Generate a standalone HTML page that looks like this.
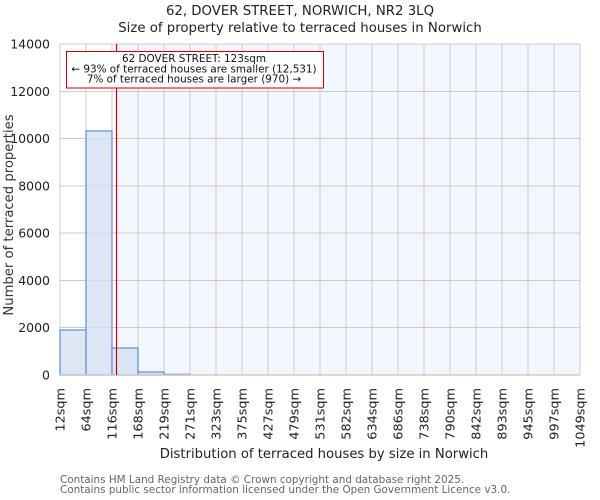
<!DOCTYPE html>
<html><head><meta charset="utf-8"><style>
html,body{margin:0;padding:0;background:#fff;}
svg{display:block;font-family:"DejaVu Sans","Liberation Sans",sans-serif;}
</style></head><body>
<svg width="600" height="500" viewBox="0 0 600 500" xmlns="http://www.w3.org/2000/svg">
<rect x="0" y="0" width="600" height="500" fill="#fff"/>
<!-- title -->
<text x="300" y="15" font-size="13.3" text-anchor="middle" fill="#222">62, DOVER STREET, NORWICH, NR2 3LQ</text>
<text x="300" y="32" font-size="13.3" text-anchor="middle" fill="#222">Size of property relative to terraced houses in Norwich</text>
<!-- plot bg -->
<rect x="116.5" y="44" width="463.5" height="331" fill="#f3f6fd"/>
<!-- grid -->
<g stroke="#cccccc" stroke-width="1" shape-rendering="crispEdges">
<line x1="60" y1="44" x2="580" y2="44"/>
<line x1="60" y1="91.3" x2="580" y2="91.3"/>
<line x1="60" y1="138.6" x2="580" y2="138.6"/>
<line x1="60" y1="185.9" x2="580" y2="185.9"/>
<line x1="60" y1="233.1" x2="580" y2="233.1"/>
<line x1="60" y1="280.4" x2="580" y2="280.4"/>
<line x1="60" y1="327.7" x2="580" y2="327.7"/>
<line x1="60" y1="44" x2="60" y2="375"/>
<line x1="86" y1="44" x2="86" y2="375"/>
<line x1="112" y1="44" x2="112" y2="375"/>
<line x1="138" y1="44" x2="138" y2="375"/>
<line x1="164" y1="44" x2="164" y2="375"/>
<line x1="190" y1="44" x2="190" y2="375"/>
<line x1="216" y1="44" x2="216" y2="375"/>
<line x1="242" y1="44" x2="242" y2="375"/>
<line x1="268" y1="44" x2="268" y2="375"/>
<line x1="294" y1="44" x2="294" y2="375"/>
<line x1="320" y1="44" x2="320" y2="375"/>
<line x1="346" y1="44" x2="346" y2="375"/>
<line x1="372" y1="44" x2="372" y2="375"/>
<line x1="398" y1="44" x2="398" y2="375"/>
<line x1="424" y1="44" x2="424" y2="375"/>
<line x1="450" y1="44" x2="450" y2="375"/>
<line x1="476" y1="44" x2="476" y2="375"/>
<line x1="502" y1="44" x2="502" y2="375"/>
<line x1="528" y1="44" x2="528" y2="375"/>
<line x1="554" y1="44" x2="554" y2="375"/>
<line x1="580" y1="44" x2="580" y2="375"/>
</g>
<!-- bars -->
<g fill="#d4e0f1" fill-opacity="0.8" stroke="#5b8fd6" stroke-width="1.2">
<rect x="60" y="330" width="26" height="45"/>
<rect x="86" y="131" width="26" height="244"/>
<rect x="112" y="348" width="26" height="27"/>
<rect x="138" y="372" width="26" height="3"/>
<rect x="164" y="374.3" width="26" height="0.7"/>
</g>
<!-- bottom axis -->
<line x1="60" y1="375" x2="580" y2="375" stroke="#cccccc" stroke-width="1.5"/>
<!-- red line -->
<line x1="116.5" y1="44" x2="116.5" y2="375" stroke="#cc0000" stroke-width="1.2"/>
<!-- annotation -->
<rect x="66.5" y="51.5" width="257" height="36.5" fill="#fff" stroke="#cc0000" stroke-width="1"/>
<g font-size="10.4" text-anchor="middle" fill="#111">
<text x="194" y="62">62 DOVER STREET: 123sqm</text>
<text x="194" y="72.3">← 93% of terraced houses are smaller (12,531)</text>
<text x="194" y="82.6">7% of terraced houses are larger (970) →</text>
</g>
<!-- y ticks -->
<g font-size="12.5" text-anchor="end" fill="#222">
<text x="50" y="48.5">14000</text>
<text x="50" y="95.8">12000</text>
<text x="50" y="143.1">10000</text>
<text x="50" y="190.4">8000</text>
<text x="50" y="237.6">6000</text>
<text x="50" y="284.9">4000</text>
<text x="50" y="332.2">2000</text>
<text x="50" y="379.5">0</text>
</g>
<!-- y label -->
<text transform="translate(13,215) rotate(-90)" font-size="13.2" text-anchor="middle" fill="#333">Number of terraced properties</text>
<!-- x ticks -->
<g font-size="12.8" text-anchor="end" fill="#222">
<text transform="translate(64.5,388) rotate(-90)">12sqm</text>
<text transform="translate(90.5,388) rotate(-90)">64sqm</text>
<text transform="translate(116.5,388) rotate(-90)">116sqm</text>
<text transform="translate(142.5,388) rotate(-90)">168sqm</text>
<text transform="translate(168.5,388) rotate(-90)">219sqm</text>
<text transform="translate(194.5,388) rotate(-90)">271sqm</text>
<text transform="translate(220.5,388) rotate(-90)">323sqm</text>
<text transform="translate(246.5,388) rotate(-90)">375sqm</text>
<text transform="translate(272.5,388) rotate(-90)">427sqm</text>
<text transform="translate(298.5,388) rotate(-90)">479sqm</text>
<text transform="translate(324.5,388) rotate(-90)">531sqm</text>
<text transform="translate(350.5,388) rotate(-90)">582sqm</text>
<text transform="translate(376.5,388) rotate(-90)">634sqm</text>
<text transform="translate(402.5,388) rotate(-90)">686sqm</text>
<text transform="translate(428.5,388) rotate(-90)">738sqm</text>
<text transform="translate(454.5,388) rotate(-90)">790sqm</text>
<text transform="translate(480.5,388) rotate(-90)">842sqm</text>
<text transform="translate(506.5,388) rotate(-90)">893sqm</text>
<text transform="translate(532.5,388) rotate(-90)">945sqm</text>
<text transform="translate(558.5,388) rotate(-90)">997sqm</text>
<text transform="translate(584.5,388) rotate(-90)">1049sqm</text>
</g>
<!-- x label -->
<text x="324" y="458" font-size="13.2" text-anchor="middle" fill="#222">Distribution of terraced houses by size in Norwich</text>
<!-- footer -->
<g font-size="10.4" fill="#666">
<text x="60" y="483">Contains HM Land Registry data © Crown copyright and database right 2025.</text>
<text x="60" y="493">Contains public sector information licensed under the Open Government Licence v3.0.</text>
</g>
</svg>
</body></html>
